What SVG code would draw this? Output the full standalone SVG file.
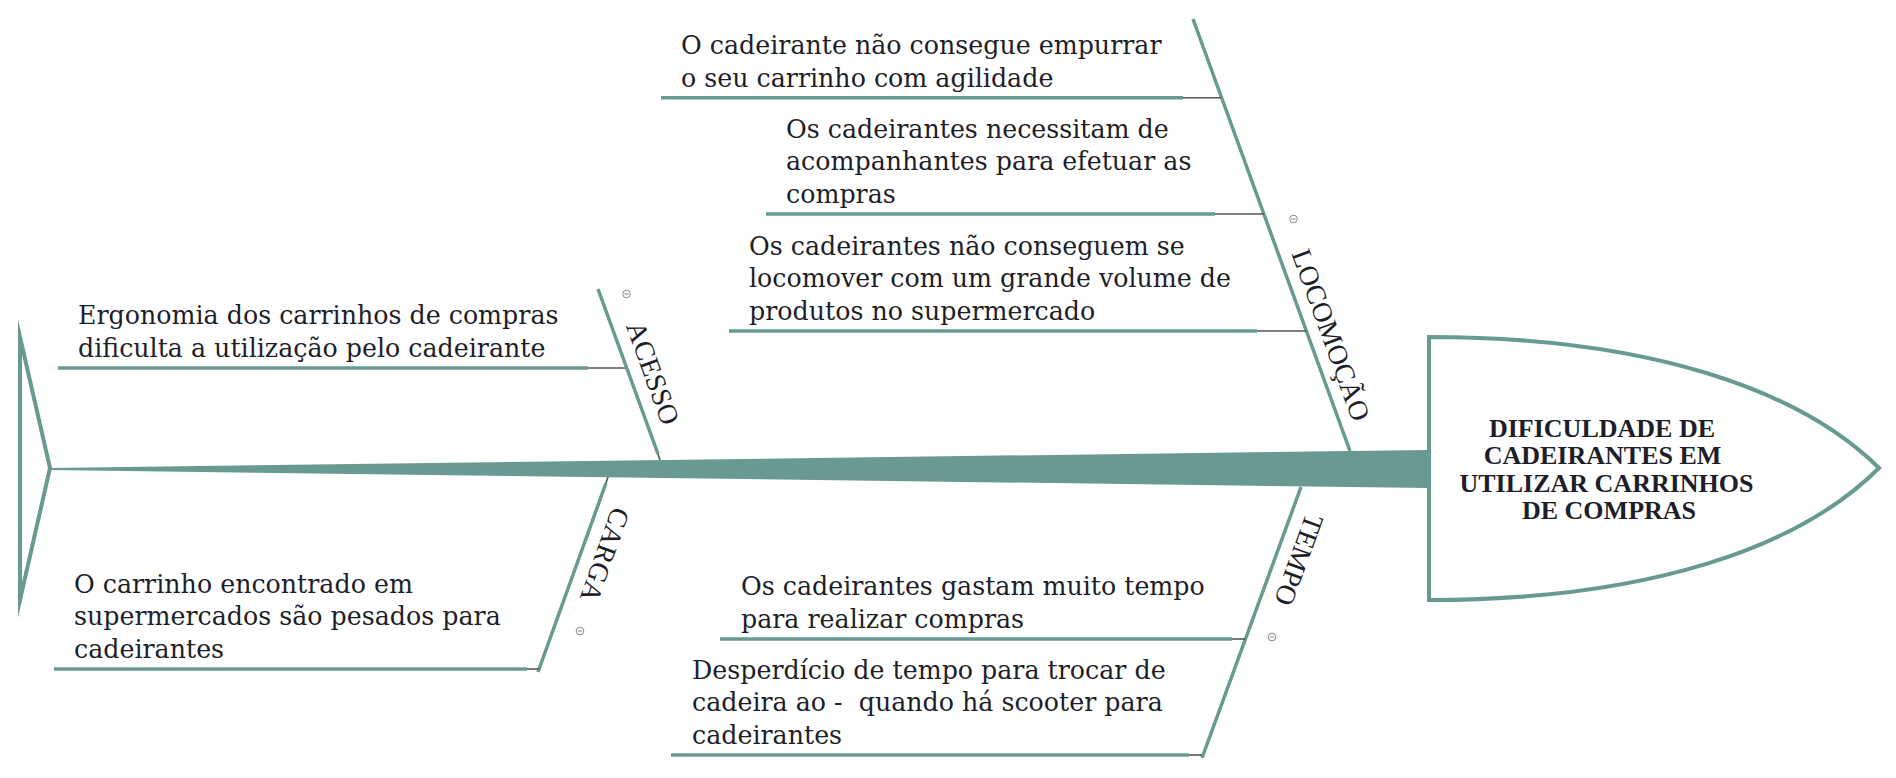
<svg xmlns="http://www.w3.org/2000/svg" width="1896" height="778" viewBox="0 0 1896 778">
<style>
.teal{stroke:#699a92;fill:none;stroke-width:3.5}
.uline{stroke:#699a92;stroke-width:3.5;fill:none}
.link{stroke:#555;stroke-width:1.6;fill:none}
.desc{font-family:"DejaVu Serif","Liberation Serif",serif;font-size:25.3px;fill:#1e1e28}
.cat{font-family:"Liberation Serif","Times New Roman",serif;font-size:28px;fill:#1e1e28;text-anchor:middle}
.title{font-family:"Liberation Serif","Times New Roman",serif;font-size:26px;font-weight:bold;fill:#1e1e2a;text-anchor:middle}
.ico circle{fill:#fff;stroke:#888;stroke-width:1}
.ico line{stroke:#888;stroke-width:1}
</style>
<defs>
<g id="minus" class="ico"><circle cx="0" cy="0" r="3.8"/><line x1="-2.2" y1="0" x2="2.2" y2="0"/></g>
</defs>
<rect width="1896" height="778" fill="#fff"/>

<g id="connectors">
<polygon id="spine" points="50,468 1429,450 1429,488 50,470" fill="#699a92"/>
<line class="teal" x1="598" y1="289" x2="658" y2="454"/>
<line class="link" x1="658" y1="454" x2="660" y2="460"/>
<line class="teal" x1="1193" y1="19" x2="1350" y2="451"/>
<line class="teal" x1="606" y1="483" x2="538" y2="672"/>
<line class="link" x1="608" y1="477" x2="606" y2="483"/>
<line class="teal" x1="1301" y1="487" x2="1202" y2="758"/>
<line class="link" x1="588" y1="368" x2="625" y2="368"/>
<line class="link" x1="1183" y1="97.7" x2="1221" y2="97.7"/>
<line class="link" x1="1215" y1="214" x2="1264" y2="214"/>
<line class="link" x1="1257" y1="331" x2="1306" y2="331"/>
<line class="link" x1="527" y1="669" x2="539" y2="669"/>
<line class="link" x1="1232" y1="639" x2="1245" y2="639"/>
<line class="link" x1="1189" y1="755" x2="1202" y2="755"/>
</g>

<g id="tail">
<polygon points="20,337 50,468 20,600" fill="none" stroke="#699a92" stroke-width="4" stroke-linejoin="miter" stroke-miterlimit="20"/>
</g>

<g id="head">
<path d="M1429,337 C1650,337 1800,390 1879,468 C1800,547 1650,600 1429,600 Z" fill="#fff" stroke="#699a92" stroke-width="4"/>
<text class="title" x="1602" y="436.5">DIFICULDADE DE</text>
<text class="title" x="1602.5" y="464">CADEIRANTES EM</text>
<text class="title" x="1606.5" y="491.5">UTILIZAR CARRINHOS</text>
<text class="title" x="1609" y="519">DE COMPRAS</text>
</g>

<g id="cat-acesso">
<text class="cat" transform="translate(653,373) rotate(70)" y="9.5">ACESSO</text>
<use href="#minus" x="626.5" y="294"/>
</g>
<g id="cat-locomocao">
<text class="cat" transform="translate(1331,335) rotate(70)" y="9.5">LOCOMOÇÃO</text>
<use href="#minus" x="1293.5" y="219"/>
</g>
<g id="cat-carga">
<text class="cat" transform="translate(605,555) rotate(109.6)" y="9.5">CARGA</text>
<use href="#minus" x="580" y="631"/>
</g>
<g id="cat-tempo">
<text class="cat" transform="translate(1299,560) rotate(110)" y="9.5">TEMPO</text>
<use href="#minus" x="1272" y="637"/>
</g>

<g id="cause-ergonomia">
<text class="desc" x="78" y="324.3">Ergonomia dos carrinhos de compras</text>
<text class="desc" x="78" y="357">dificulta a utilização pelo cadeirante</text>
<line class="uline" x1="58" y1="368" x2="588" y2="368"/>
</g>

<g id="cause-carrinho-pesado">
<text class="desc" x="74" y="592.6">O carrinho encontrado em</text>
<text class="desc" x="74" y="625.3">supermercados são pesados para</text>
<text class="desc" x="74" y="658">cadeirantes</text>
<line class="uline" x1="54" y1="669" x2="527" y2="669"/>
</g>

<g id="cause-empurrar">
<text class="desc" x="681" y="54">O cadeirante não consegue empurrar</text>
<text class="desc" x="681" y="86.7">o seu carrinho com agilidade</text>
<line class="uline" x1="661" y1="97.7" x2="1183" y2="97.7"/>
</g>

<g id="cause-acompanhantes">
<text class="desc" x="786" y="137.6">Os cadeirantes necessitam de</text>
<text class="desc" x="786" y="170.3">acompanhantes para efetuar as</text>
<text class="desc" x="786" y="203">compras</text>
<line class="uline" x1="766" y1="214" x2="1215" y2="214"/>
</g>

<g id="cause-volume">
<text class="desc" x="749" y="254.6">Os cadeirantes não conseguem se</text>
<text class="desc" x="749" y="287.3">locomover com um grande volume de</text>
<text class="desc" x="749" y="320">produtos no supermercado</text>
<line class="uline" x1="729" y1="331" x2="1257" y2="331"/>
</g>

<g id="cause-tempo-compras">
<text class="desc" x="741" y="595.3">Os cadeirantes gastam muito tempo</text>
<text class="desc" x="741" y="628">para realizar compras</text>
<line class="uline" x1="720" y1="639" x2="1232" y2="639"/>
</g>

<g id="cause-trocar-cadeira">
<text class="desc" x="692" y="678.6">Desperdício de tempo para trocar de</text>
<text class="desc" x="692" y="711.3" xml:space="preserve">cadeira ao -  quando há scooter para</text>
<text class="desc" x="692" y="744">cadeirantes</text>
<line class="uline" x1="671" y1="755" x2="1189" y2="755"/>
</g>
</svg>
